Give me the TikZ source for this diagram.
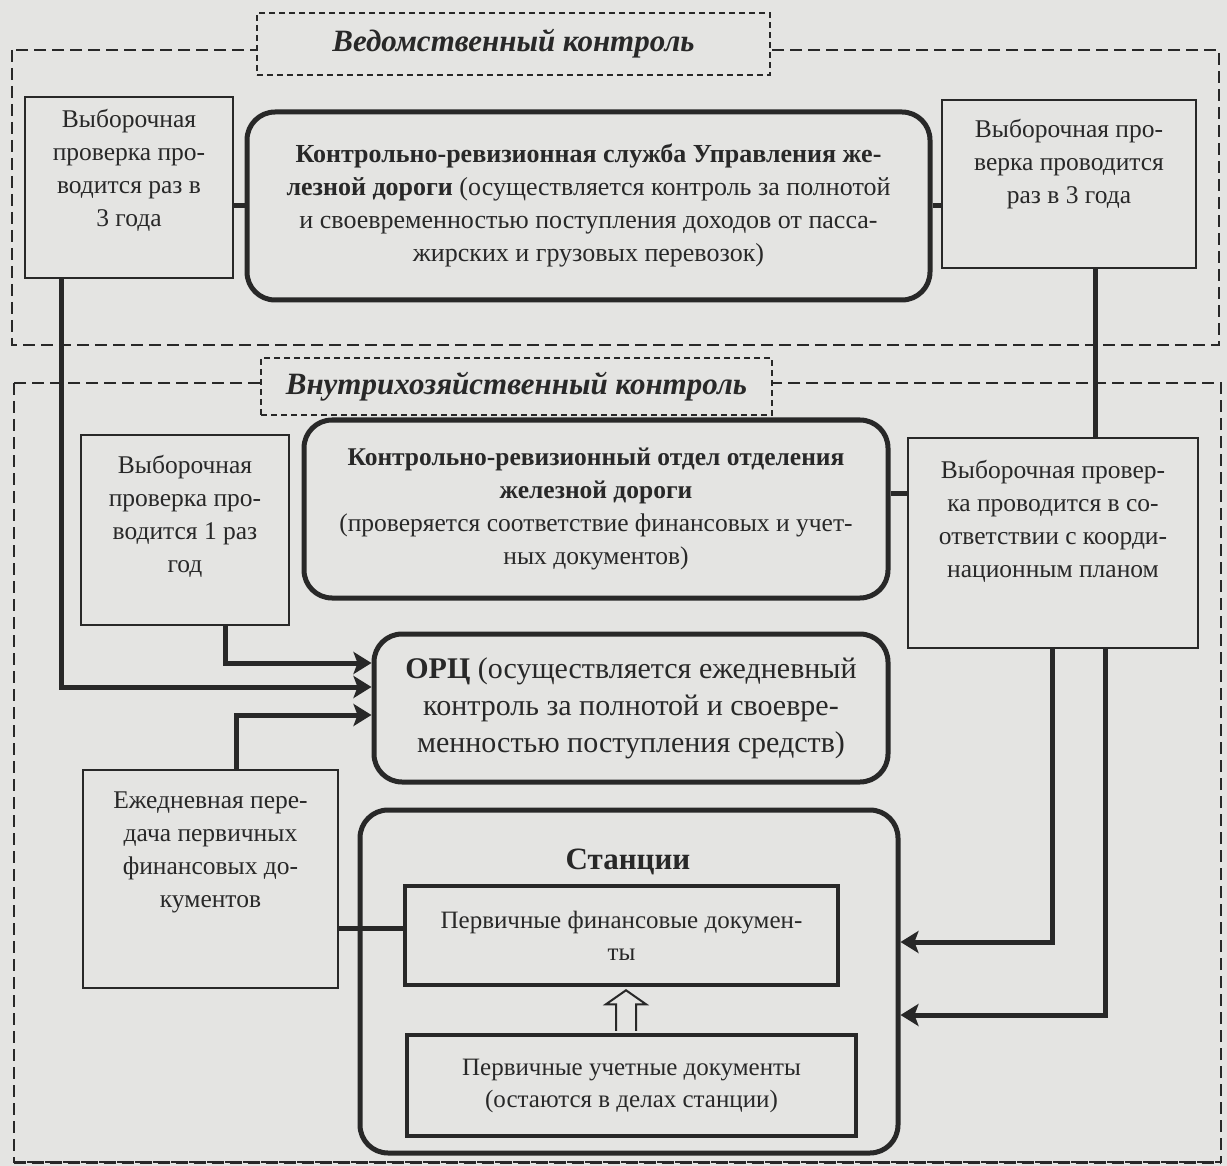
\documentclass[tikz,border=0pt]{standalone}
\usepackage{fontspec}
\setmainfont{Liberation Serif}
\usetikzlibrary{arrows.meta,calc}
\definecolor{paper}{RGB}{228,228,226}
\definecolor{ink}{RGB}{40,40,40}
% box text set from the top: width, height, first baseline, text
\newcommand{\seltext}[4]{\parbox[c][#2][t]{#1}{\centering\rule{0pt}{#3}#4}}

\begin{document}
\begin{tikzpicture}[x=1pt,y=-1pt,
    every node/.style={font=\fontsize{25.5}{33}\selectfont, text=ink},
    sel/.style={draw=ink, line width=1.3pt, inner sep=0pt},
    rnd/.style={draw=ink, line width=5pt, rounded corners=28pt, align=center, inner sep=0pt},
    doc/.style={draw=ink, line width=4.5pt, align=center, inner sep=0pt, font=\fontsize{25}{32}\selectfont},
    frame/.style={draw=ink, line width=1.3pt, dash pattern=on 12pt off 6pt},
    ttl/.style={draw=ink, fill=paper, line width=1.3pt, dash pattern=on 6pt off 4pt, inner sep=0pt, font=\fontsize{31}{34}\selectfont\bfseries\itshape},
    conn/.style={draw=ink, line width=5pt},
    arr/.style={conn, -{Stealth[length=18pt,width=22pt,inset=4pt]}},
  ]
  \path[use as bounding box, fill=paper] (0,0) rectangle (1227,1166);

  % outer frames
  \draw[frame] (12,50) rectangle (1219,345);
  \draw[frame] (14,383) rectangle (1221,1162);
  \draw[frame, line width=3pt] (14,1162) -- (1221,1162);
  \node[ttl, minimum width=513pt, minimum height=62pt] (vedt) at (513.5,44) {Ведомственный контроль};
  \node[ttl, minimum width=511pt, minimum height=57pt] (vnutt) at (516.5,386.5) {Внутрихозяйственный контроль};

  % departmental level
  \node[sel] (sel1) at (129,187.5) {\seltext{208pt}{181pt}{31pt}{Выборочная\\проверка про-\\водится раз в\\3 года}};
  \node[rnd, minimum width=683pt, minimum height=188pt, font=\fontsize{26}{33}\selectfont] (krs) at (588.5,206)
    {\textbf{Контрольно-ревизионная служба Управления же-}\\\textbf{лезной дороги} (осуществляется контроль за полнотой\\и своевременностью поступления доходов от пасса-\\жирских и грузовых перевозок)};
  \node[sel] (sel2) at (1069,184) {\seltext{254pt}{168pt}{38pt}{Выборочная про-\\верка проводится\\раз в 3 года}};

  % internal level
  \node[sel] (sel3) at (185,530) {\seltext{208pt}{190pt}{38pt}{Выборочная\\проверка про-\\водится 1 раз\\год}};
  \node[rnd, minimum width=584pt, minimum height=178pt] (kro) at (596,509)
    {\textbf{Контрольно-ревизионный отдел отделения}\\\textbf{железной дороги}\\(проверяется соответствие финансовых и учет-\\ных документов)};
  \node[sel] (sel4) at (1053,543) {\seltext{290pt}{210pt}{40pt}{Выборочная провер-\\ка проводится в со-\\ответствии с коорди-\\национным планом}};
  \node[rnd, minimum width=514pt, minimum height=148pt, font=\fontsize{30}{37}\selectfont] (orc) at (631,708)
    {\textbf{ОРЦ} (осуществляется ежедневный\\контроль за полнотой и своевре-\\менностью поступления средств)};
  \node[sel] (daily) at (210.5,879) {\seltext{255pt}{218pt}{38pt}{Ежедневная пере-\\дача первичных\\финансовых до-\\кументов}};

  % station
  \node[rnd, minimum width=538pt, minimum height=343pt] (stan) at (629,981.5) {};
  \node[font=\fontsize{31}{34}\selectfont\bfseries] (stanttl) at (628,862) {Станции};
  \node[doc, minimum width=433pt, minimum height=99pt] (fin) at (621.5,935.5) {Первичные финансовые докумен-\\ты};
  \node[doc, minimum width=449pt, minimum height=101pt] (ucht) at (631.5,1085.5) {Первичные учетные документы\\(остаются в делах станции)};

  % connectors
  \coordinate (kroe) at ([yshift=16pt]kro.east);
  \coordinate (finw) at ([yshift=7pt]fin.west);
  \coordinate (ax) at (626,0);
  \draw[conn] (krs.west) -- (krs.west -| sel1.east);
  \draw[conn] (krs.east) -- (krs.east -| sel2.west);
  \draw[conn] (kroe) -- (kroe -| sel4.west);
  \draw[conn] ([xshift=26pt]sel2.south) -- ([xshift=26pt]sel2.south |- sel4.north);
  \draw[arr] ([xshift=-68pt]sel1.south) |- ([yshift=21pt]orc.west);
  \draw[arr] ([xshift=40pt]sel3.south) |- ([yshift=45pt]orc.west);
  \draw[arr] ([xshift=26pt]daily.north) |- ([yshift=-7pt]orc.west);
  \draw[arr] ([xshift=-1pt]sel4.south) |- ([yshift=39.5pt]stan.east);
  \draw[arr] ([xshift=52pt]sel4.south) |- ([yshift=-33.5pt]stan.east);
  \draw[conn] (finw) -- (finw -| daily.east);
  \draw[draw=ink, line width=2pt, fill=paper]
    ($(ucht.north -| ax)+(-10,-2)$) -- ($(fin.south -| ax)+(-10,17)$)
    -- ($(fin.south -| ax)+(-20,17)$) -- ($(fin.south -| ax)+(0,3)$)
    -- ($(fin.south -| ax)+(20,17)$) -- ($(fin.south -| ax)+(10,17)$)
    -- ($(ucht.north -| ax)+(10,-2)$);
\end{tikzpicture}
\end{document}
